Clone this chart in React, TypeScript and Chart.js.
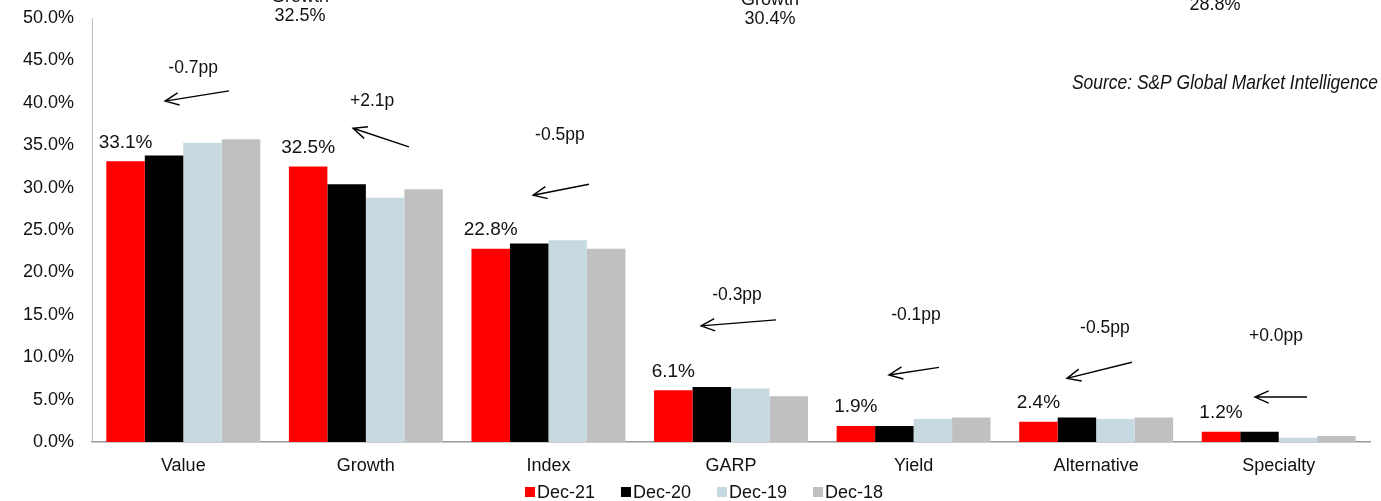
import React, { useEffect, useRef } from "react";
import { Chart, registerables } from "chart.js";

Chart.register(...registerables);

// ---------- data ----------
const categories = ["Value", "Growth", "Index", "GARP", "Yield", "Alternative", "Specialty"];
const seriesNames = ["Dec-21", "Dec-20", "Dec-19", "Dec-18"];
const dec21 = [33.1, 32.5, 22.8, 6.1, 1.9, 2.4, 1.2];
const dec20 = [33.8, 30.4, 23.4, 6.5, 1.9, 2.9, 1.2];
const dec19 = [35.3, 28.8, 23.8, 6.3, 2.7, 2.7, 0.5];
const dec18 = [35.7, 29.8, 22.8, 5.4, 2.9, 2.9, 0.7];
const changeLabels = ["-0.7pp", "+2.1p", "-0.5pp", "-0.3pp", "-0.1pp", "-0.5pp", "+0.0pp"];
const topNoteTitles = ["Growth", "Growth", "Growth"];
const topNoteValues = ["32.5%", "30.4%", "28.8%"];
const sourceText = "Source: S&P Global Market Intelligence";
const yMin = 0;
const yMax = 50;
const yStep = 5;

// ---------- annotation layout (category index, value %) ----------
const changeTextPos = [
  [0.054, 44.1], [1.034, 40.2], [2.063, 36.2], [3.033, 17.3],
  [4.013, 15.0], [5.048, 13.4], [5.985, 12.5],
];
const arrowPos = [
  [0.25, 41.4, -0.1, 40.2],
  [1.236, 34.8, 0.93, 37.0],
  [2.222, 30.4, 1.916, 29.1],
  [3.247, 14.4, 2.836, 13.7],
  [4.139, 8.8, 3.865, 7.9],
  [5.196, 9.4, 4.84, 7.5],
  [6.155, 5.3, 5.87, 5.3],
];
const topNotePos = [[0.639, 50.24], [3.214, 49.9], [5.651, 51.5]];

const colors = ["#FF0000", "#000000", "#C6D9E0", "#C0C0C0"];
const FONT = "'Liberation Sans', Arial, sans-serif";

const annotPlugin = {
  id: "annot",
  afterDraw(chart: any) {
    const { ctx, scales } = chart;
    const x = scales.x;
    const y = scales.y;
    ctx.save();
    ctx.fillStyle = "#111";
    ctx.strokeStyle = "#000";
    ctx.textAlign = "center";
    ctx.textBaseline = "middle";

    // data labels on Dec-21
    const meta = chart.getDatasetMeta(0);
    ctx.font = `19px ${FONT}`;
    meta.data.forEach((bar: any, i: number) => {
      ctx.fillText(dec21[i].toFixed(1) + "%", bar.x, bar.y - 19);
    });

    // change labels + arrows
    ctx.font = `17.5px ${FONT}`;
    changeLabels.forEach((t, i) => {
      const [cx, cy] = changeTextPos[i];
      ctx.fillText(t, x.getPixelForValue(cx), y.getPixelForValue(cy));
      const [a1, b1, a2, b2] = arrowPos[i];
      const x1 = x.getPixelForValue(a1), y1 = y.getPixelForValue(b1);
      const x2 = x.getPixelForValue(a2), y2 = y.getPixelForValue(b2);
      ctx.lineWidth = 1.4;
      ctx.beginPath();
      ctx.moveTo(x1, y1);
      ctx.lineTo(x2, y2);
      const ang = Math.atan2(y1 - y2, x1 - x2);
      const hl = 15, ha = 0.42;
      ctx.moveTo(x2 + hl * Math.cos(ang + ha), y2 + hl * Math.sin(ang + ha));
      ctx.lineTo(x2, y2);
      ctx.lineTo(x2 + hl * Math.cos(ang - ha), y2 + hl * Math.sin(ang - ha));
      ctx.stroke();
    });

    // top cut-off notes
    ctx.font = `18px ${FONT}`;
    topNoteValues.forEach((v, i) => {
      const [cx, cy] = topNotePos[i];
      const px = x.getPixelForValue(cx), py = y.getPixelForValue(cy);
      ctx.fillText(v, px, py);
      ctx.fillText(topNoteTitles[i], px, py - 19);
    });

    // source
    ctx.font = `italic 21px ${FONT}`;
    ctx.textAlign = "right";
    ctx.fillText(sourceText, 1378, 83, 306);

    // legend
    ctx.font = `18px ${FONT}`;
    ctx.textAlign = "left";
    const box = 10, gapBox = 2, gapItem = 26;
    const widths = seriesNames.map((n) => box + gapBox + ctx.measureText(n).width);
    const total = widths.reduce((a, b) => a + b, 0) + gapItem * (seriesNames.length - 1);
    let lx = 704 - total / 2;
    const ly = 492;
    seriesNames.forEach((n, i) => {
      ctx.fillStyle = colors[i];
      ctx.fillRect(lx, ly - box / 2, box, box);
      ctx.fillStyle = "#111";
      ctx.fillText(n, lx + box + gapBox, ly + 1);
      lx += widths[i] + gapItem;
    });
    ctx.restore();
  },
};

export default function App() {
  const ref = useRef<HTMLCanvasElement | null>(null);
  useEffect(() => {
    if (!ref.current) return;
    const seriesData = [dec21, dec20, dec19, dec18];
    const chart = new Chart(ref.current, {
      type: "bar",
      data: {
        labels: categories,
        datasets: seriesNames.map((n, i) => ({
          label: n,
          data: seriesData[i],
          backgroundColor: colors[i],
          borderWidth: 0,
          barPercentage: 1,
          categoryPercentage: 0.843,
        })),
      },
      options: {
        responsive: false,
        animation: false,
        devicePixelRatio: 1,
        layout: { padding: { top: 18, right: 11, left: 0, bottom: 24 } },
        plugins: {
          tooltip: { enabled: false },
          legend: { display: false },
        },
        scales: {
          x: {
            grid: { display: false, drawTicks: false },
            border: { display: true, color: "#999", width: 1.5 },
            afterFit: (s: any) => { s.height = 35; s.paddingLeft = 0; s.paddingRight = 0; },
            ticks: { color: "#111", font: { family: FONT, size: 18 }, padding: 13 },
          },
          y: {
            min: yMin,
            max: yMax,
            grid: { display: false, drawTicks: false },
            border: { display: true, color: "#bbb", width: 1 },
            afterFit: (s: any) => { s.width = 92; s.paddingTop = 0; s.paddingBottom = 0; },
            ticks: {
              stepSize: yStep,
              padding: 18,
              color: "#111",
              font: { family: FONT, size: 18 },
              callback: (v: any) => Number(v).toFixed(1) + "%",
            },
          },
        },
      },
      plugins: [annotPlugin],
    });
    return () => chart.destroy();
  }, []);
  return (
    <div style={{ position: "fixed", left: 0, top: 0, width: 1381, height: 501, background: "#fff" }}>
      <canvas ref={ref} width={1381} height={501} />
    </div>
  );
}
